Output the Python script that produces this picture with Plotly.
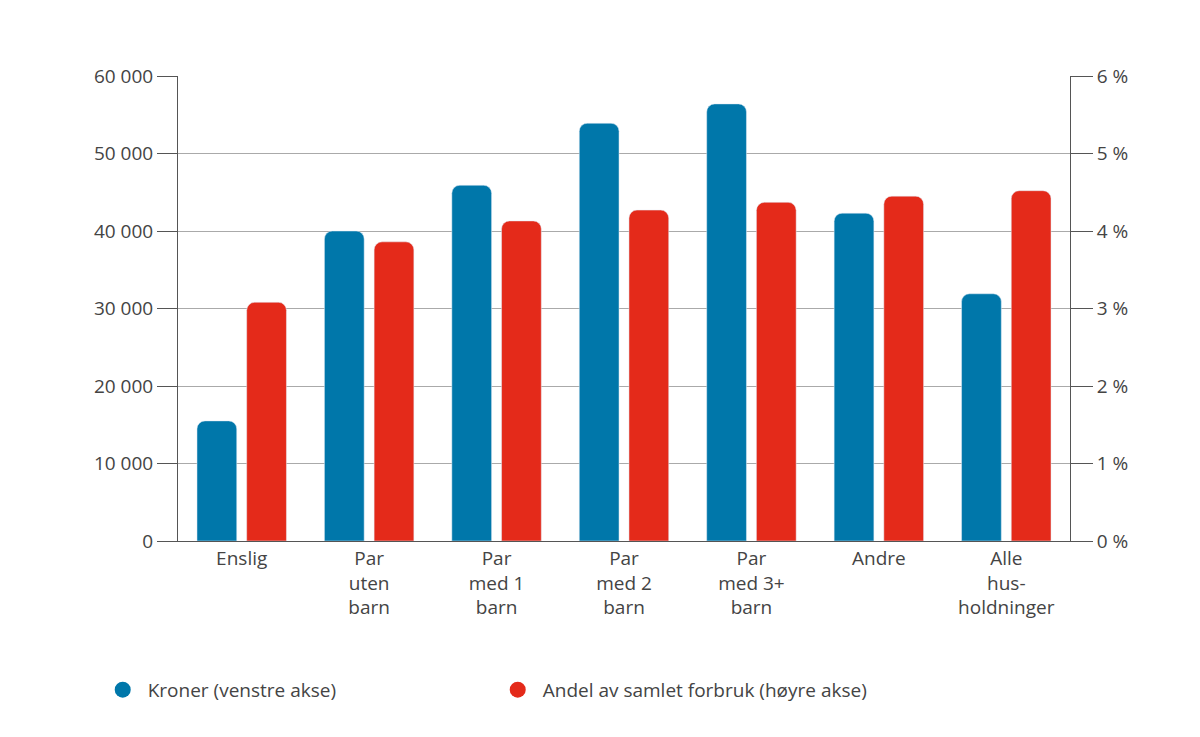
import plotly.graph_objects as go

categories = ["Enslig", "Par<br>uten<br>barn", "Par<br>med 1<br>barn", "Par<br>med 2<br>barn",
              "Par<br>med 3+<br>barn", "Andre", "Alle<br>hus-<br>holdninger"]
kroner = [15500, 40000, 45900, 53900, 56400, 42300, 31900]
andel = [3.08, 3.86, 4.13, 4.27, 4.37, 4.45, 4.52]
left_ticks = [0, 10000, 20000, 30000, 40000, 50000, 60000]
left_labels = ["0", "10 000", "20 000", "30 000", "40 000", "50 000", "60 000"]
right_ticks = [0, 1, 2, 3, 4, 5, 6]
right_labels = ["0 %", "1 %", "2 %", "3 %", "4 %", "5 %", "6 %"]

blue = "#0077AA"
red = "#E42A1A"

fig = go.Figure()
fig.add_trace(go.Bar(x=categories, y=kroner, marker_color=blue, offsetgroup="a",
                     showlegend=False, yaxis="y"))
fig.add_trace(go.Bar(x=categories, y=andel, marker_color=red, offsetgroup="b",
                     showlegend=False, yaxis="y2"))
fig.add_trace(go.Scatter(x=[None], y=[None], mode="markers", name="Kroner (venstre akse)",
                         marker=dict(color=blue, size=30, symbol="circle")))
fig.add_trace(go.Scatter(x=[None], y=[None], mode="markers", name="Andel av samlet forbruk (høyre akse)",
                         marker=dict(color=red, size=30, symbol="circle")))

fig.update_layout(
    width=1200, height=737, plot_bgcolor="white", paper_bgcolor="white",
    font=dict(family="Open Sans", size=19, color="#444"),
    margin=dict(l=170, r=138, t=68, b=204, autoexpand=False),
    barmode="group", bargap=0.22, bargroupgap=0.2, barcornerradius=8,
    xaxis=dict(showline=True, linecolor="#555", linewidth=1, ticks=""),
    yaxis=dict(range=[0, 60000], tickvals=left_ticks, ticktext=left_labels,
               showgrid=True, gridcolor="#aaa", showline=True, linecolor="#555",
               ticks="outside", ticklen=20, tickcolor="#555", zeroline=False),
    yaxis2=dict(range=[0, 6], tickvals=right_ticks, ticktext=right_labels, overlaying="y",
                side="right", showgrid=False, showline=True, linecolor="#555",
                ticks="outside", ticklen=22, tickcolor="#555", zeroline=False),
    legend=dict(orientation="h", x=-0.09, y=-0.32, xanchor="left", yanchor="middle",
                font=dict(size=19), itemwidth=40, entrywidth=340),
)
fig.write_html("out.html")
